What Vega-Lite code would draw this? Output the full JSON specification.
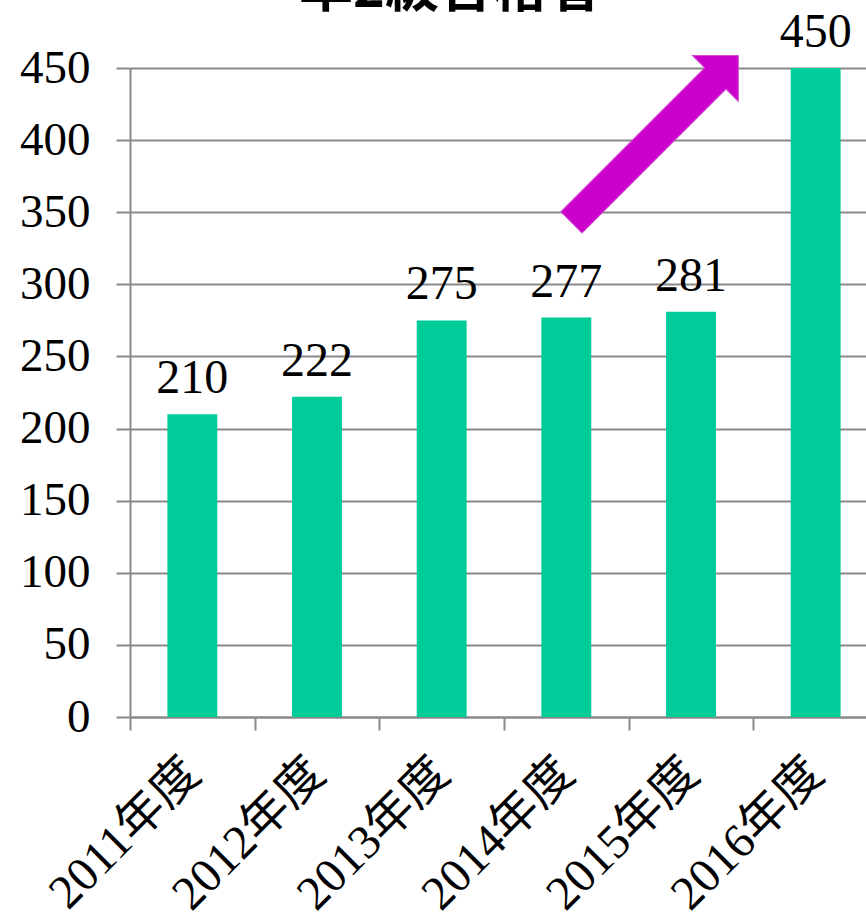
{
  "$schema": "https://vega.github.io/schema/vega-lite/v6.json",
  "autosize": "none",
  "width": 736,
  "height": 649,
  "padding": {"left": 130, "top": 68, "right": 0, "bottom": 198},
  "background": "white",
  "title": {
    "text": "準2級合格者",
    "font": "Noto Sans CJK JP",
    "fontWeight": "bold",
    "fontSize": 54,
    "color": "#000000",
    "anchor": "middle",
    "baseline": "alphabetic",
    "offset": 0,
    "dy": 52,
    "dx": -48
  },
  "config": {
    "view": {"stroke": null},
    "axis": {
      "labelFont": "Liberation Serif, Noto Sans CJK JP",
      "labelColor": "#000000",
      "domainColor": "#898989",
      "tickColor": "#898989",
      "gridColor": "#898989",
      "domainWidth": 2,
      "tickWidth": 2,
      "gridWidth": 2
    }
  },
  "datasets": {
    "bars": [
      {"year": "2011年度", "count": 210},
      {"year": "2012年度", "count": 222},
      {"year": "2013年度", "count": 275},
      {"year": "2014年度", "count": 277},
      {"year": "2015年度", "count": 281},
      {"year": "2016年度", "count": 450}
    ],
    "arrow": [
      {"pos": 4.21, "value": 400.8}
    ]
  },
  "layer": [
    {
      "data": {"name": "bars"},
      "mark": {"type": "bar", "color": "#00CC99"},
      "encoding": {
        "x": {
          "field": "year",
          "type": "nominal",
          "sort": null,
          "scale": {"range": [0, 748], "paddingInner": 0.6, "paddingOuter": 0.3},
          "axis": {
            "title": null,
            "labelAngle": -45,
            "labelAlign": "right",
            "labelBaseline": "middle",
            "labelFontSize": 48,
            "labelPadding": 36,
            "labelLimit": 0,
            "tickBand": "center",
            "tickOffset": -62.3,
            "labelOffset": 62.3,
            "tickSize": 13,
            "grid": false,
            "domain": true
          }
        },
        "y": {
          "field": "count",
          "type": "quantitative",
          "scale": {"domain": [0, 450], "nice": false},
          "axis": {
            "title": null,
            "values": [0, 50, 100, 150, 200, 250, 300, 350, 400, 450],
            "labelFontSize": 47,
            "labelPadding": 26,
            "tickSize": 14,
            "grid": true
          }
        }
      }
    },
    {
      "data": {"name": "bars"},
      "mark": {
        "type": "text",
        "font": "Liberation Serif",
        "fontSize": 48,
        "color": "#000000",
        "baseline": "alphabetic",
        "align": "center",
        "dy": -21
      },
      "encoding": {
        "x": {"field": "year", "type": "nominal", "sort": null, "scale": {"range": [0, 748], "paddingInner": 0.6, "paddingOuter": 0.3}, "axis": null},
        "y": {"field": "count", "type": "quantitative"},
        "text": {"field": "count", "type": "quantitative"}
      }
    },
    {
      "data": {"name": "arrow"},
      "mark": {
        "type": "point",
        "shape": "M0,-1L0.275,-0.725L0.127,-0.725L0.127,1L-0.127,1L-0.127,-0.725L-0.275,-0.725Z",
        "size": 55696,
        "angle": 45,
        "filled": true,
        "fill": "#CC00CC",
        "stroke": "#D24AD2",
        "strokeWidth": 1,
        "opacity": 1
      },
      "encoding": {
        "x": {"field": "pos", "type": "quantitative", "scale": {"domain": [0, 6], "range": [0, 748], "nice": false, "zero": false}, "axis": null},
        "y": {"field": "value", "type": "quantitative"}
      }
    }
  ],
  "resolve": {"scale": {"x": "independent"}}
}
